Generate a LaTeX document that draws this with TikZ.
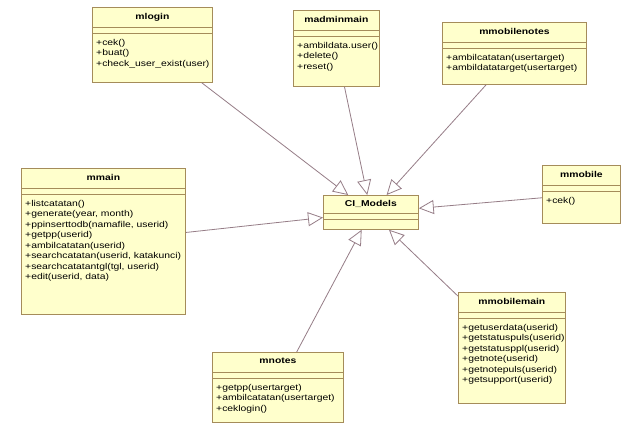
\documentclass[tikz,border=0pt]{standalone}
\usepackage{fontspec}
\newfontfamily\umlfont[FakeStretch=1.22]{Liberation Sans}
\usetikzlibrary{arrows.meta,positioning}

\definecolor{clsfill}{RGB}{255,255,204}
\definecolor{clsline}{RGB}{165,140,90}
\definecolor{genline}{RGB}{150,125,135}

\begin{document}
\begin{tikzpicture}[x=1pt,y=-1pt,
  cls/.style={draw=clsline,fill=clsfill,line width=0.8pt,anchor=north west,inner sep=0pt},
  ttl/.style={font=\umlfont\bfseries\fontsize{8.5}{10.5}\selectfont,inner sep=0pt},
  ops/.style={font=\umlfont\fontsize{8.5}{10.5}\selectfont,align=left,anchor=north west,inner sep=0pt},
  sep/.style={draw=clsline,line width=0.8pt},
  gen/.style={draw=genline,line width=0.8pt,-{Triangle[open,length=15pt,width=14pt]}}]

\fill[white] (0,0) rectangle (634,425);
\useasboundingbox (0,0) rectangle (634,425);

% class boxes
\node[cls,minimum width=120pt,minimum height=75pt] (mlogin) at (92,7) {};
\node[cls,minimum width=86pt,minimum height=76pt] (madminmain) at (293,10) {};
\node[cls,minimum width=144pt,minimum height=62pt] (mmobilenotes) at (442,22) {};
\node[cls,minimum width=164pt,minimum height=146pt] (mmain) at (21,168) {};
\node[cls,minimum width=95pt,minimum height=34pt] (cimodels) at (323,195) {};
\node[cls,minimum width=78pt,minimum height=58pt] (mmobile) at (542,165) {};
\node[cls,minimum width=107pt,minimum height=111pt] (mmobilemain) at (458,292) {};
\node[cls,minimum width=131pt,minimum height=70pt] (mnotes) at (212,352) {};

% names
\node[ttl,below=6pt of mlogin.north] (mlogin-name) {mlogin};
\node[ttl,below=6pt of madminmain.north] (madminmain-name) {madminmain};
\node[ttl,below=6pt of mmobilenotes.north] (mmobilenotes-name) {mmobilenotes};
\node[ttl,below=6pt of mmain.north] (mmain-name) {mmain};
\node[ttl,below=5pt of cimodels.north] (cimodels-name) {CI\_Models};
\node[ttl,below=6pt of mmobile.north] (mmobile-name) {mmobile};
\node[ttl,below=6pt of mmobilemain.north] (mmobilemain-name) {mmobilemain};
\node[ttl,below=6pt of mnotes.north] (mnotes-name) {mnotes};

% compartments
\draw[sep] ([yshift=-20pt]mlogin.north west) -- ([yshift=-20pt]mlogin.north east);
\draw[sep] ([yshift=-26pt]mlogin.north west) -- ([yshift=-26pt]mlogin.north east);
\draw[sep] ([yshift=-20pt]madminmain.north west) -- ([yshift=-20pt]madminmain.north east);
\draw[sep] ([yshift=-26pt]madminmain.north west) -- ([yshift=-26pt]madminmain.north east);
\draw[sep] ([yshift=-20pt]mmobilenotes.north west) -- ([yshift=-20pt]mmobilenotes.north east);
\draw[sep] ([yshift=-26pt]mmobilenotes.north west) -- ([yshift=-26pt]mmobilenotes.north east);
\draw[sep] ([yshift=-20pt]mmain.north west) -- ([yshift=-20pt]mmain.north east);
\draw[sep] ([yshift=-26pt]mmain.north west) -- ([yshift=-26pt]mmain.north east);
\draw[sep] ([yshift=-18pt]cimodels.north west) -- ([yshift=-18pt]cimodels.north east);
\draw[sep] ([yshift=-24pt]cimodels.north west) -- ([yshift=-24pt]cimodels.north east);
\draw[sep] ([yshift=-20pt]mmobile.north west) -- ([yshift=-20pt]mmobile.north east);
\draw[sep] ([yshift=-26pt]mmobile.north west) -- ([yshift=-26pt]mmobile.north east);
\draw[sep] ([yshift=-20pt]mmobilemain.north west) -- ([yshift=-20pt]mmobilemain.north east);
\draw[sep] ([yshift=-26pt]mmobilemain.north west) -- ([yshift=-26pt]mmobilemain.north east);
\draw[sep] ([yshift=-20pt]mnotes.north west) -- ([yshift=-20pt]mnotes.north east);
\draw[sep] ([yshift=-26pt]mnotes.north west) -- ([yshift=-26pt]mnotes.north east);

% operations
\node[ops,below right=32pt and 4pt of mlogin.north west] (mlogin-ops)
  {+cek()\\+buat()\\+check\_user\_exist(user)};
\node[ops,below right=32pt and 4pt of madminmain.north west] (madminmain-ops)
  {+ambildata.user()\\+delete()\\+reset()};
\node[ops,below right=32pt and 4pt of mmobilenotes.north west] (mmobilenotes-ops)
  {+ambilcatatan(usertarget)\\+ambildatatarget(usertarget)};
\node[ops,below right=32pt and 4pt of mmain.north west] (mmain-ops)
  {+listcatatan()\\+generate(year, month)\\+ppinserttodb(namafile, userid)\\+getpp(userid)\\+ambilcatatan(userid)\\+searchcatatan(userid, katakunci)\\+searchcatatantgl(tgl, userid)\\+edit(userid, data)};
\node[ops,below right=32pt and 4pt of mmobile.north west] (mmobile-ops)
  {+cek()};
\node[ops,below right=32pt and 4pt of mmobilemain.north west] (mmobilemain-ops)
  {+getuserdata(userid)\\+getstatuspuls(userid)\\+getstatusppl(userid)\\+getnote(userid)\\+getnotepuls(userid)\\+getsupport(userid)};
\node[ops,below right=32pt and 4pt of mnotes.north west] (mnotes-ops)
  {+getpp(usertarget)\\+ambilcatatan(usertarget)\\+ceklogin()};

% generalizations
\draw[gen] (mlogin) -- (cimodels);
\draw[gen] (madminmain) -- (cimodels);
\draw[gen] (mmobilenotes) -- (cimodels);
\draw[gen] (mmain) -- (cimodels);
\draw[gen] (mmobile) -- (cimodels);
\draw[gen] (mnotes) -- (cimodels);
\draw[gen] (mmobilemain) -- (cimodels);

\end{tikzpicture}
\end{document}
